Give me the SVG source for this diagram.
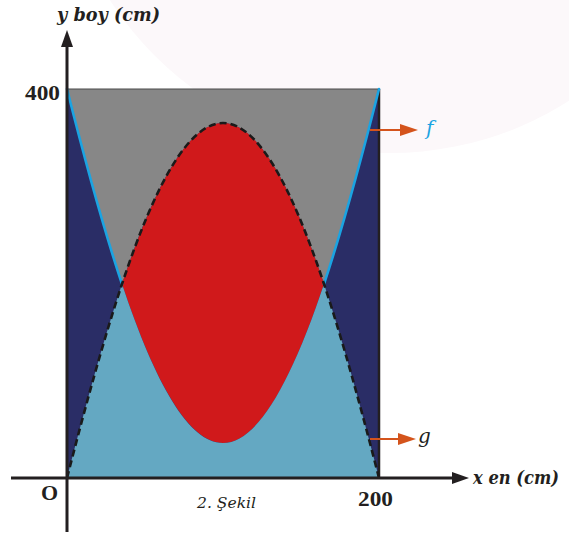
<svg xmlns="http://www.w3.org/2000/svg" width="569" height="536" viewBox="0 0 569 536">
<style>
.lbl{font-family:"Liberation Serif","Times New Roman",serif;font-weight:bold;fill:#231f20}
.ital{font-family:"DejaVu Serif","Liberation Serif",serif;font-style:italic}
.axis{stroke:#231f20;stroke-width:3;fill:none}
.orange{stroke:#d4541c;stroke-width:2;fill:none}
.fline{stroke:#1ba4e2;stroke-width:2.6;fill:none;stroke-linecap:round}
.gline{stroke:#1a1a1a;stroke-width:2.6;fill:none;stroke-dasharray:7 4}
</style>
<defs>
<marker id="axhead" viewBox="0 0 17 12" refX="0" refY="6" markerWidth="17" markerHeight="12" markerUnits="userSpaceOnUse" orient="auto">
<path d="M0,0 L17,6 L0,12 Z" fill="#231f20"/>
</marker>
<marker id="orhead" viewBox="0 0 18 12" refX="0" refY="6" markerWidth="18" markerHeight="12" markerUnits="userSpaceOnUse" orient="auto">
<path d="M0,0 L18,6 L0,12 Z" fill="#d4541c"/>
</marker>
</defs>
<rect x="0" y="0" width="569" height="536" fill="#ffffff"/>
<circle cx="390" cy="-180" r="333" fill="#fcf8fa"/>
<g id="regions">
<rect id="navy" x="67" y="89" width="312" height="389" fill="#2a2d66"/>
<path id="gray" d="M67,89 C85.33,161.97 103.67,229.06 122,284 C155.67,182.53 189.33,123 223,123 C256.67,123 290.33,182.53 324,284 C342.33,229.06 360.67,161.97 379,89 Z" fill="#878787"/>
<path id="red" d="M122,284 C155.67,182.53 189.33,123 223,123 C256.67,123 290.33,182.53 324,284 C290.33,384.9 256.67,443 223,443 C189.33,443 155.67,384.9 122,284 Z" fill="#d0191b"/>
<path id="lightblue" d="M67,478 C85.33,406.33 103.67,339.26 122,284 C155.67,384.9 189.33,443 223,443 C256.67,443 290.33,384.9 324,284 C342.33,339.26 360.67,406.33 379,478 Z" fill="#64a8c2"/>
<line x1="67" y1="89" x2="379" y2="89" stroke="#4a4a4a" stroke-width="1.2"/>
<line x1="379" y1="89" x2="379" y2="478" stroke="#231f20" stroke-width="2.5"/>
</g>
<g id="curves">
<path id="f" class="fline" d="M67,89 C85.33,161.97 103.67,229.06 122,284 M324,284 C342.33,229.06 360.67,161.97 379,89"/>
<path id="g" class="gline" d="M67,478 C85.33,406.33 103.67,339.26 122,284 C155.67,182.53 189.33,123 223,123 C256.67,123 290.33,182.53 324,284 C342.33,339.26 360.67,406.33 379,478"/>
</g>
<g id="connectors">
<line class="axis" x1="67" y1="532" x2="67" y2="47" marker-end="url(#axhead)"/>
<line class="axis" x1="11" y1="478" x2="452" y2="478" marker-end="url(#axhead)"/>
<line class="orange" x1="370" y1="130" x2="400" y2="130" marker-end="url(#orhead)"/>
<line class="orange" x1="370" y1="439" x2="398" y2="439" marker-end="url(#orhead)"/>
</g>
<g id="labels">
<text class="lbl ital" x="57" y="21" font-size="19" textLength="103" lengthAdjust="spacingAndGlyphs">y boy (cm)</text>
<text class="lbl" x="25" y="100" font-size="22" textLength="35" lengthAdjust="spacingAndGlyphs">400</text>
<text class="lbl" x="41" y="500" font-size="22">O</text>
<text class="lbl" x="358" y="506" font-size="22" textLength="35" lengthAdjust="spacingAndGlyphs">200</text>
<text class="lbl ital" x="473" y="484" font-size="18" textLength="86" lengthAdjust="spacingAndGlyphs">x en (cm)</text>
<text class="ital" x="426" y="135" font-size="20" fill="#1ba4e2">f</text>
<text class="ital" x="418" y="443" font-size="20" fill="#231f20">g</text>
<text class="ital" x="197" y="508" font-size="15" fill="#231f20" textLength="59" lengthAdjust="spacingAndGlyphs">2. Şekil</text>
</g>
</svg>
